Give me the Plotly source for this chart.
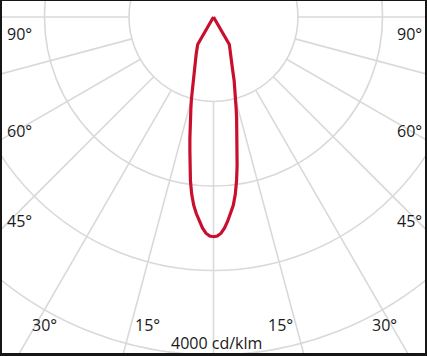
import numpy as np
import plotly.graph_objects as go

# ---- data (cd/klm, symmetric distribution, angle measured from nadir) ----
angles_deg = [0, 1, 2, 3, 4, 5, 6, 7, 8, 9, 10, 11, 12, 13, 14, 15, 16, 18, 20, 25, 30,
              35, 40, 45, 50, 55, 60, 65, 70, 75, 80, 85, 90]
intensity = [2600, 2592, 2560, 2500, 2420, 2335, 2240, 2115, 1960, 1785, 1610, 1465, 1340,
             1215, 1105, 1010, 925, 790, 660, 485, 375,
             0, 0, 0, 0, 0, 0, 0, 0, 0, 0, 0, 0]

ring_values = [1000, 2000, 3000, 4000]
spoke_angles = [-90, -75, -60, -45, -30, -15, 0, 15, 30, 45, 60, 75, 90]
scale_label = "4000 cd/klm"

W, H = 427, 356
ML, MR, MT, MB = 2, 2, 1, 3
PW, PH = W - ML - MR, H - MT - MB
unit_per_px = 1000 / 84.5
cx_px, cy_px = 213.5, 17.0          # pole position in page pixels

x_range = [(ML - cx_px) * unit_per_px, (W - MR - cx_px) * unit_per_px]
y_range = [-(H - MB - cy_px) * unit_per_px, (cy_px - MT) * unit_per_px]

# full curve: left half (negative angles) then right half
th = np.array([-a for a in angles_deg[::-1]] + angles_deg[1:], dtype=float)
rr = np.array(intensity[::-1] + intensity[1:], dtype=float)
xs = rr * np.sin(np.radians(th))
ys = -rr * np.cos(np.radians(th))

fig = go.Figure()
fig.add_trace(go.Scatter(x=xs, y=ys, mode="lines",
                         line=dict(color="#c8102e", width=3.2),
                         hoverinfo="skip", showlegend=False))

grid_col = "#d9d9d9"
shapes = []
for rv in ring_values:
    shapes.append(dict(type="circle", xref="x", yref="y", x0=-rv, x1=rv, y0=-rv, y1=rv,
                       line=dict(color=grid_col, width=1.6), layer="below"))
r_in, r_out = ring_values[0], 8000
for a in spoke_angles:
    t = np.radians(a)
    shapes.append(dict(type="line", xref="x", yref="y",
                       x0=r_in * np.sin(t), y0=-r_in * np.cos(t),
                       x1=r_out * np.sin(t), y1=-r_out * np.cos(t),
                       line=dict(color=grid_col, width=1.6), layer="below"))


def px2paper(px, py):
    return (px - ML) / PW, (H - MB - py) / PH


font = dict(family="Open Sans, Noto Sans, sans-serif", size=16, color="#1a1a1a")
ann = []
label_pos = [
    ("90°", 19, 34), ("90°", 409, 34),
    ("60°", 19, 131), ("60°", 409, 131),
    ("45°", 19, 220.5), ("45°", 409, 220.5),
    ("30°", 44.5, 325), ("30°", 384.5, 325),
    ("15°", 147.5, 325), ("15°", 280.5, 325),
    (scale_label, 217, 343),
]
for txt, px, py in label_pos:
    xp, yp = px2paper(px, py)
    ann.append(dict(text=txt, x=xp, y=yp, xref="paper", yref="paper",
                    showarrow=False, xanchor="center", yanchor="middle", font=font))

fig.update_layout(
    width=W, height=H,
    margin=dict(l=ML, r=MR, t=MT, b=MB, pad=0),
    paper_bgcolor="#161616", plot_bgcolor="white",
    xaxis=dict(range=x_range, visible=False, fixedrange=True),
    yaxis=dict(range=y_range, visible=False, fixedrange=True),
    shapes=shapes, annotations=ann, showlegend=False,
)

fig.write_html("out.html", config={"displayModeBar": False},
               post_script="document.body.style.margin='0px';"
                           "document.body.style.overflow='hidden';")
